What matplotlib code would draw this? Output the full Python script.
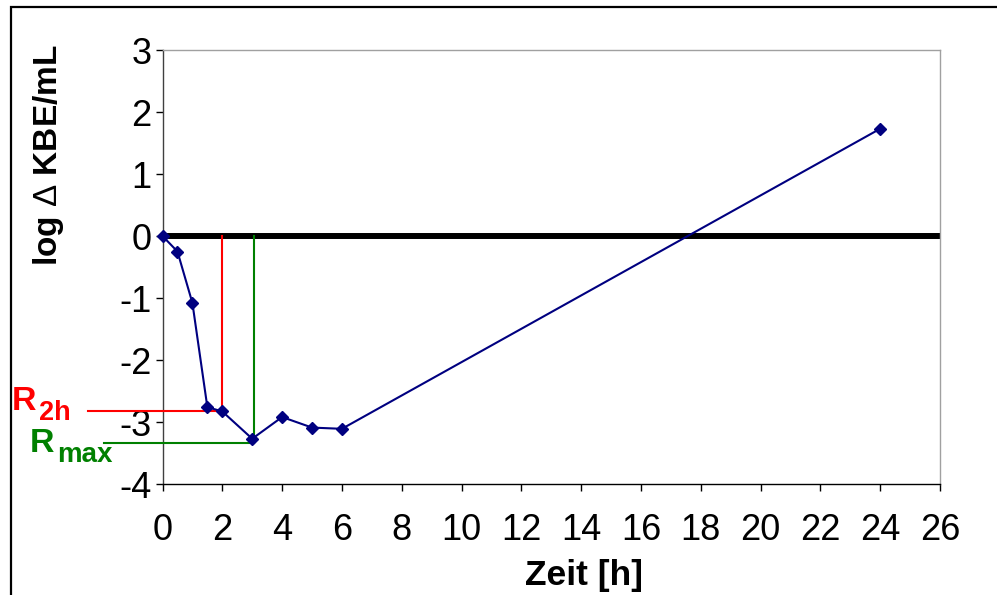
import matplotlib
matplotlib.use("Agg")
import matplotlib.pyplot as plt
from matplotlib.patches import Rectangle

# ---- data ----
zeit = [0, 0.5, 1, 1.5, 2, 3, 4, 5, 6, 24]
log_kbe = [0, -0.25, -1.08, -2.76, -2.83, -3.27, -2.92, -3.09, -3.11, 1.73]
x_ticks = list(range(0, 27, 2))
y_ticks = list(range(-4, 4))
r2h_time, r2h_value = 2, -2.83
rmax_time, rmax_value = 3.05, -3.34

plt.rcParams['font.family'] = ['Liberation Sans', 'DejaVu Sans']
plt.rcParams['mathtext.fontset'] = 'custom'
plt.rcParams['mathtext.rm'] = 'Liberation Sans'
plt.rcParams['mathtext.bf'] = 'Liberation Sans:bold'

W, H = 997, 595
fig = plt.figure(figsize=(W / 100, H / 100), dpi=100)
fig.patch.set_facecolor('white')

def fx(px):
    return px / W

def fy(py):
    return 1 - py / H

ax = fig.add_axes([fx(162.5), fy(484), fx(940) - fx(162.5), fy(50) - fy(484)])
ax.set_xlim(0, 26)
ax.set_ylim(-4, 3)

# spines
ax.spines['left'].set_color('#404040')
ax.spines['bottom'].set_color('black')
ax.spines['top'].set_color('#a0a0a0')
ax.spines['right'].set_color('#a0a0a0')
for s in ax.spines.values():
    s.set_linewidth(1.0)

ax.set_xticks(x_ticks)
ax.set_yticks(y_ticks)
ax.set_xticklabels([str(v) for v in x_ticks])
ax.set_yticklabels([str(v) for v in y_ticks])
ax.tick_params(axis='both', direction='out', length=5, width=1, labelsize=26, colors='black')
ax.tick_params(axis='x', pad=16)
ax.tick_params(axis='y', pad=3)

# zero line
ax.axhline(0, color='black', linewidth=4.3, zorder=2)

# R lines
ax.plot([r2h_time, r2h_time], [0, r2h_value], color='red', linewidth=1.5, zorder=3)
ax.plot([-2.49, r2h_time], [r2h_value, r2h_value], color='red', linewidth=1.5, zorder=3, clip_on=False)
ax.plot([rmax_time, rmax_time], [0, rmax_value], color='green', linewidth=1.5, zorder=3)
ax.plot([-1.96, rmax_time], [rmax_value, rmax_value], color='green', linewidth=1.5, zorder=3, clip_on=False)

# data
ax.plot(zeit, log_kbe, color='#000080', linewidth=1.5, marker='D', markersize=6,
        markerfacecolor='#000080', markeredgecolor='#000080', zorder=4, clip_on=False)

# axis labels
fig.text(fx(48), fy(155), r'log $\Delta$ KBE/mL', rotation=90, ha='center', va='center',
         fontsize=24, fontweight='bold')
fig.text(fx(584), fy(585), 'Zeit [h]', ha='center', va='baseline', fontsize=25.5, fontweight='bold')

# R annotations
fig.text(fx(12), fy(410), 'R', color='red', fontsize=24.5, fontweight='bold', ha='left', va='baseline')
fig.text(fx(39), fy(420), '2h', color='red', fontsize=19.5, fontweight='bold', ha='left', va='baseline')
fig.text(fx(30), fy(452), 'R', color='green', fontsize=24.5, fontweight='bold', ha='left', va='baseline')
fig.text(fx(57), fy(462), 'max', color='green', fontsize=20, fontweight='bold', ha='left', va='baseline')

# figure frame
fig.patches.append(Rectangle((fx(11), -0.1), 1.2, fy(7.5) + 0.1, transform=fig.transFigure,
                             fill=False, edgecolor='black', linewidth=1.6))

fig.savefig('out.png', dpi=100)
